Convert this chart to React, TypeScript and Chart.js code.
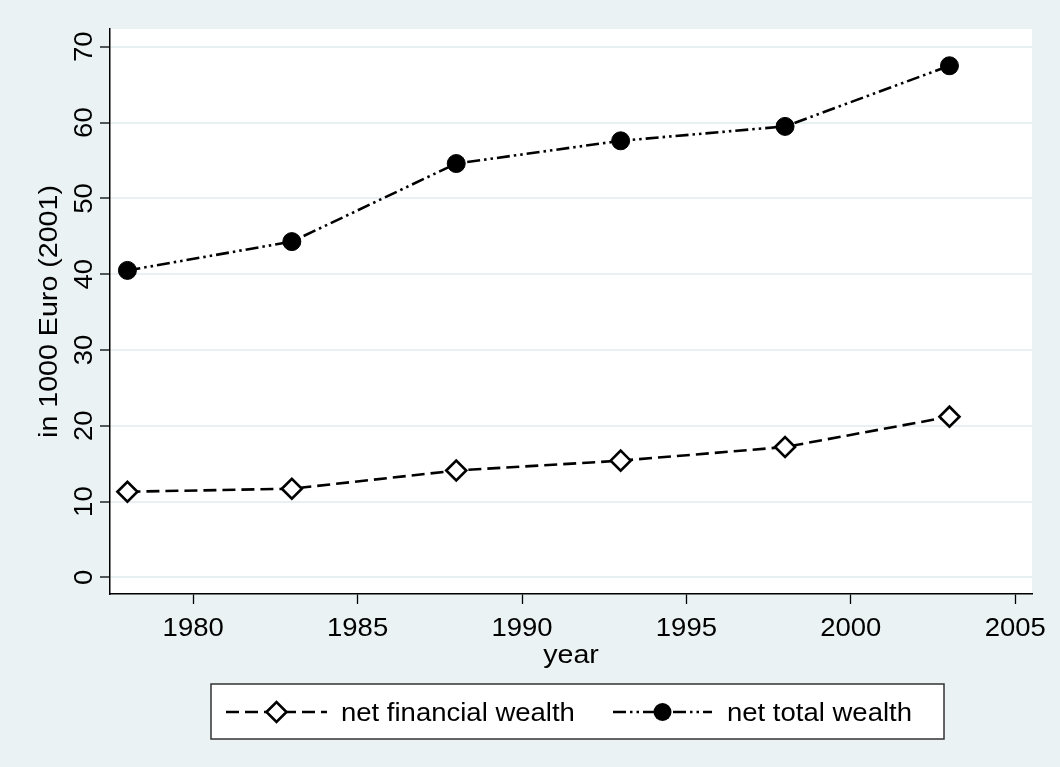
import React, { useEffect, useRef } from "react";
import { Chart, registerables } from "chart.js";

Chart.register(...registerables);

const years = [1978, 1983, 1988, 1993, 1998, 2003];
const financialWealth = [11.3, 11.7, 14.1, 15.4, 17.2, 21.2];
const totalWealth = [40.5, 44.3, 54.6, 57.6, 59.5, 67.5];
const xTickValues = [1980, 1985, 1990, 1995, 2000, 2005];
const yTickValues = [0, 10, 20, 30, 40, 50, 60, 70];
const seriesLabels = ["net financial wealth", "net total wealth"];
const xTitle = "year";
const yTitle = "in 1000 Euro (2001)";

const BG = "#eaf2f3";
const GRID = "#e8f0f2";
const FONT = '"Liberation Sans", Arial, Helvetica, sans-serif';
const STRETCH = 1.1;
const LW = 2.6;
const DASH_FIN = [13, 6];
const DASH_TOT = [13, 4, 2.5, 4, 2.5, 4];

function drawText(
  ctx: CanvasRenderingContext2D,
  text: string,
  x: number,
  y: number,
  rot: number,
  size: number,
  align: CanvasTextAlign
) {
  ctx.save();
  ctx.translate(x, y);
  ctx.rotate(rot);
  ctx.scale(STRETCH, 1);
  ctx.font = `${size}px ${FONT}`;
  ctx.fillStyle = "#000";
  ctx.textAlign = align;
  ctx.textBaseline = "alphabetic";
  ctx.fillText(text, 0, 0);
  ctx.restore();
}

function drawDiamond(ctx: CanvasRenderingContext2D, x: number, y: number, r: number) {
  ctx.save();
  ctx.beginPath();
  ctx.moveTo(x - r, y);
  ctx.lineTo(x, y - r);
  ctx.lineTo(x + r, y);
  ctx.lineTo(x, y + r);
  ctx.closePath();
  ctx.fillStyle = "#fff";
  ctx.fill();
  ctx.setLineDash([]);
  ctx.lineWidth = LW;
  ctx.strokeStyle = "#000";
  ctx.stroke();
  ctx.restore();
}

function drawDot(ctx: CanvasRenderingContext2D, x: number, y: number, r: number) {
  ctx.save();
  ctx.beginPath();
  ctx.arc(x, y, r, 0, Math.PI * 2);
  ctx.fillStyle = "#000";
  ctx.fill();
  ctx.restore();
}

const bgPlugin = {
  id: "bgPlugin",
  beforeDraw(chart: any) {
    const { ctx, chartArea, width, height } = chart;
    ctx.save();
    ctx.fillStyle = BG;
    ctx.fillRect(0, 0, width, height);
    ctx.fillStyle = "#fff";
    ctx.fillRect(chartArea.left, chartArea.top, chartArea.right - chartArea.left, chartArea.bottom - chartArea.top);
    ctx.restore();
  },
};

const textPlugin = {
  id: "textPlugin",
  afterDraw(chart: any) {
    const ctx: CanvasRenderingContext2D = chart.ctx;
    const xs = chart.scales.x;
    const ys = chart.scales.y;
    const area = chart.chartArea;
    xTickValues.forEach((v) => {
      drawText(ctx, String(v), xs.getPixelForValue(v), area.bottom + 42, 0, 25, "center");
    });
    yTickValues.forEach((v) => {
      drawText(ctx, String(v), area.left - 18, ys.getPixelForValue(v), -Math.PI / 2, 25, "center");
    });
    drawText(ctx, xTitle, (area.left + area.right) / 2, area.bottom + 69, 0, 26, "center");
    drawText(ctx, yTitle, area.left - 53, (area.top + area.bottom) / 2, -Math.PI / 2, 26, "center");

    const bx = 211, by = 684, bw = 733, bh = 55;
    ctx.save();
    ctx.fillStyle = "#fff";
    ctx.fillRect(bx, by, bw, bh);
    ctx.strokeStyle = "#333";
    ctx.lineWidth = 1.5;
    ctx.strokeRect(bx, by, bw, bh);
    ctx.restore();

    const ly = 712;
    const items = [
      { x0: 226, x1: 327, dash: DASH_FIN, tx: 341, marker: "diamond" },
      { x0: 613, x1: 712, dash: DASH_TOT, tx: 727, marker: "dot" },
    ];
    items.forEach((it, i) => {
      ctx.save();
      ctx.beginPath();
      ctx.setLineDash(it.dash);
      ctx.lineWidth = LW;
      ctx.strokeStyle = "#000";
      ctx.moveTo(it.x0, ly);
      ctx.lineTo(it.x1, ly);
      ctx.stroke();
      ctx.restore();
      const mx = (it.x0 + it.x1) / 2;
      if (it.marker === "diamond") drawDiamond(ctx, mx, ly, 10);
      else drawDot(ctx, mx, ly, 9);
      drawText(ctx, seriesLabels[i], it.tx, ly + 9, 0, 25, "left");
    });
  },
};

export default function App() {
  const ref = useRef<HTMLCanvasElement | null>(null);

  useEffect(() => {
    document.body.style.margin = "0";
    const canvas = ref.current;
    if (!canvas) return;
    const chart = new Chart(canvas, {
      type: "line",
      data: {
        datasets: [
          {
            label: seriesLabels[0],
            data: years.map((y, i) => ({ x: y, y: financialWealth[i] })),
            borderColor: "#000",
            borderWidth: LW,
            borderDash: DASH_FIN,
            tension: 0,
            pointStyle: "rectRot",
            pointRadius: 10,
            pointBorderWidth: LW,
            pointBackgroundColor: "#fff",
            pointBorderColor: "#000",
            fill: false,
          },
          {
            label: seriesLabels[1],
            data: years.map((y, i) => ({ x: y, y: totalWealth[i] })),
            borderColor: "#000",
            borderWidth: LW,
            borderDash: DASH_TOT,
            tension: 0,
            pointStyle: "circle",
            pointRadius: 9,
            pointBorderWidth: 1,
            pointBackgroundColor: "#000",
            pointBorderColor: "#000",
            fill: false,
          },
        ],
      },
      options: {
        animation: false,
        responsive: false,
        devicePixelRatio: 1,
        layout: { padding: { left: 0, right: 28, top: 29, bottom: 0 } },
        plugins: {
          legend: { display: false },
          tooltip: { enabled: false },
          title: { display: false },
        },
        scales: {
          x: {
            type: "linear",
            min: 1977.47,
            max: 2005.51,
            afterBuildTicks: (scale: any) => {
              scale.ticks = xTickValues.map((v) => ({ value: v }));
            },
            afterFit: (scale: any) => {
              scale.height = 173;
            },
            ticks: { display: false },
            grid: {
              drawOnChartArea: false,
              drawTicks: true,
              tickLength: 10,
              tickColor: "#000",
              tickWidth: 1.3,
            },
            border: { display: true, color: "#000", width: 1.5 },
          },
          y: {
            type: "linear",
            min: -2.19,
            max: 72.35,
            afterBuildTicks: (scale: any) => {
              scale.ticks = yTickValues.map((v) => ({ value: v }));
            },
            afterFit: (scale: any) => {
              scale.width = 110;
            },
            ticks: { display: false },
            grid: {
              color: GRID,
              lineWidth: 2,
              drawTicks: true,
              tickLength: 10,
              tickColor: "#000",
              tickWidth: 1.3,
            },
            border: { display: true, color: "#000", width: 1.5 },
          },
        },
      },
      plugins: [bgPlugin, textPlugin],
    } as any);
    return () => chart.destroy();
  }, []);

  return (
    <div style={{ position: "absolute", left: 0, top: 0, width: 1060, height: 767 }}>
      <canvas ref={ref} width={1060} height={767} style={{ display: "block", width: 1060, height: 767 }} />
    </div>
  );
}
